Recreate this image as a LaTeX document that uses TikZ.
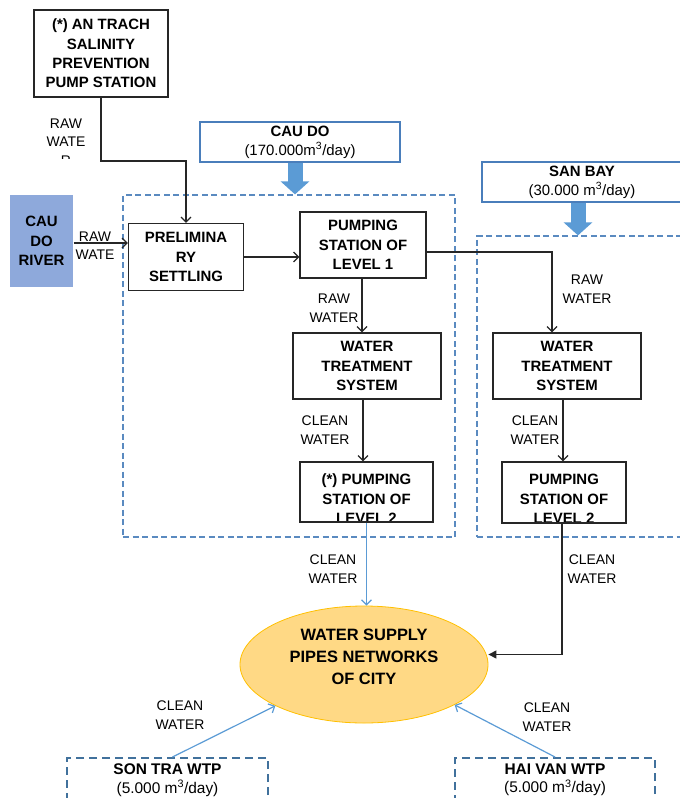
\documentclass[tikz,border=0pt]{standalone}
\usepackage{fontspec}
\setmainfont{Liberation Sans}
\usetikzlibrary{calc,arrows.meta,shapes.geometric}

\definecolor{riverblue}{HTML}{8EA9DB}
\definecolor{headblue}{HTML}{4A7EBB}
\definecolor{fatblue}{HTML}{5B9BD5}
\definecolor{zoneblue}{HTML}{5A8AC0}
\definecolor{wtpblue}{HTML}{41719C}
\definecolor{cityfill}{HTML}{FFD985}
\definecolor{cityline}{HTML}{FFC000}

\begin{document}
\begin{tikzpicture}[x=1bp,y=-1bp,
    box/.style={draw=black!85,line width=1.3bp,align=center,inner sep=0pt,
        font=\bfseries\fontsize{15}{19.5}\selectfont},
    boxtext/.style={align=center,inner sep=0pt,font=\bfseries\fontsize{15}{19.5}\selectfont},
    lbl/.style={align=center,inner sep=0pt,font=\fontsize{14}{18.5}\selectfont},
    flow/.style={draw=black!85,line width=1.2bp,-{Straight Barb[length=5bp,width=10bp]}},
    bflow/.style={flow,draw=fatblue},
    fat/.style={draw=fatblue,line width=15bp,-{Triangle[length=13bp,width=28bp]}},
    zone/.style={draw=zoneblue,line width=1.2bp,dash pattern=on 6bp off 3.5bp,inner sep=0pt},
    plant/.style={draw=headblue,line width=1.2bp,align=center,inner sep=0pt,
        font=\fontsize{15}{19}\selectfont},
    wtp/.style={draw=wtpblue,line width=2bp,dash pattern=on 8bp off 5bp,align=center,
        inner sep=0pt,font=\fontsize{15.5}{18.5}\selectfont}]
    \useasboundingbox (0,0) rectangle (680,798);
    \clip (0,0) rectangle (680,798);

    \node[zone,minimum width=332bp,minimum height=342bp] (cdzone) at (289,366) {};
    \node[zone,minimum width=332bp,minimum height=301bp] (sbzone) at (643,386.5) {};

    \node[box,minimum width=134bp,minimum height=87bp] (antrach) at (101,53.5)
        {(*) AN TRACH\\SALINITY\\PREVENTION\\PUMP STATION};
    \node[plant,minimum width=200bp,minimum height=40bp] (caudo) at (300,142)
        {\textbf{CAU DO}\\(170.000m\textsuperscript{3}/day)};
    \node[plant,minimum width=200bp,minimum height=40bp] (sanbay) at (582,182)
        {\textbf{SAN BAY}\\(30.000 m\textsuperscript{3}/day)};
    \node[box,draw=none,fill=riverblue,minimum width=63bp,minimum height=92bp] (river) at (41.5,241)
        {CAU\\DO\\RIVER};
    \node[box,minimum width=115bp,minimum height=67bp] (prelim) at (186,257)
        {PRELIMINA\\RY\\SETTLING};
    \node[box,minimum width=126bp,minimum height=66bp] (pumpa) at (363,245)
        {PUMPING\\STATION OF\\LEVEL 1};
    \node[box,minimum width=148bp,minimum height=66bp] (wtsa) at (367,366)
        {WATER\\TREATMENT\\SYSTEM};
    \node[box,minimum width=148bp,minimum height=66bp] (wtsb) at (567,366)
        {WATER\\TREATMENT\\SYSTEM};
    \node[box,minimum width=133bp,minimum height=60bp,path picture={
        \node[boxtext,yshift=-7bp] at (path picture bounding box.center) {(*) PUMPING\\STATION OF\\LEVEL 2};}]
        (levela) at (366.5,492) {};
    \node[box,minimum width=124bp,minimum height=61bp,path picture={
        \node[boxtext,yshift=-6.5bp] at (path picture bounding box.center) {PUMPING\\STATION OF\\LEVEL 2};}]
        (levelb) at (564,492.5) {};
    \node[ellipse,draw=cityline,fill=cityfill,line width=0.8bp,minimum width=248bp,minimum height=117bp,
        path picture={\node[boxtext,font=\bfseries\fontsize{16.5}{22}\selectfont,yshift=8bp]
        at (path picture bounding box.center) {WATER SUPPLY\\PIPES NETWORKS\\OF CITY};}]
        (city) at (364,664.5) {};
    \node[wtp,minimum width=201bp,minimum height=44bp] (sontra) at (167.5,780)
        {\textbf{SON TRA WTP}\\(5.000 m\textsuperscript{3}/day)};
    \node[wtp,minimum width=200bp,minimum height=44bp] (haivan) at (555,780)
        {\textbf{HAI VAN WTP}\\(5.000 m\textsuperscript{3}/day)};

    \begin{scope}
        \clip (0,100) rectangle (130,158);
        \node[lbl] (rawa) at (66,142) {RAW\\WATE\\R};
    \end{scope}
    \node[lbl] (rawb) at (95,245.5) {RAW\\WATE};
    \node[lbl] (rawc) at (334,308) {RAW\\WATER};
    \node[lbl] (rawd) at (587,289) {RAW\\WATER};
    \node[lbl] (cleana) at (325,430) {CLEAN\\WATER};
    \node[lbl] (cleanb) at (535,430) {CLEAN\\WATER};
    \node[lbl] (cleanc) at (333,569) {CLEAN\\WATER};
    \node[lbl] (cleand) at (592,569) {CLEAN\\WATER};
    \node[lbl] (cleane) at (180,715) {CLEAN\\WATER};
    \node[lbl] (cleanf) at (547,717) {CLEAN\\WATER};

    \coordinate (bend) at (101,161);
    \draw[flow] (antrach.south) -- (bend) -| (prelim.north);
    \draw[flow] (river.east |- 0,243) -- (prelim.west |- 0,243);
    \draw[flow] (prelim.east) -- (prelim.east -| pumpa.west);
    \draw[flow] ($(pumpa.east)+(0,7)$) -| ($(wtsb.north)+(-15,0)$);
    \draw[flow] ($(pumpa.south)+(-1,0)$) -- ($(wtsa.north)+(-5,0)$);
    \draw[flow] ($(wtsa.south)+(-4,0)$) -- ($(levela.north)+(-3.5,0)$);
    \draw[flow] ($(wtsb.south)+(-4,0)$) -- ($(levelb.north)+(-1,0)$);
    \draw[flow,-{Triangle[length=8bp,width=8bp]}] ($(levelb.south)+(-2,0)$) |- ($(city.east)+(0,-10)$);
    \draw[bflow] (levela.south) -- (levela.south |- city.north);
    \draw[bflow] ($(sontra.north)+(5,0)$) -- (city.205);
    \draw[bflow] (haivan.north) -- (city.336);

    \draw[fat] ($(caudo.south)+(-5,0)$) -- ($(caudo.south |- cdzone.north)+(-5,0)$);
    \draw[fat] ($(sanbay.south)+(-4,0)$) -- ($(sanbay.south |- sbzone.north)+(-4,0)$);
\end{tikzpicture}
\end{document}
